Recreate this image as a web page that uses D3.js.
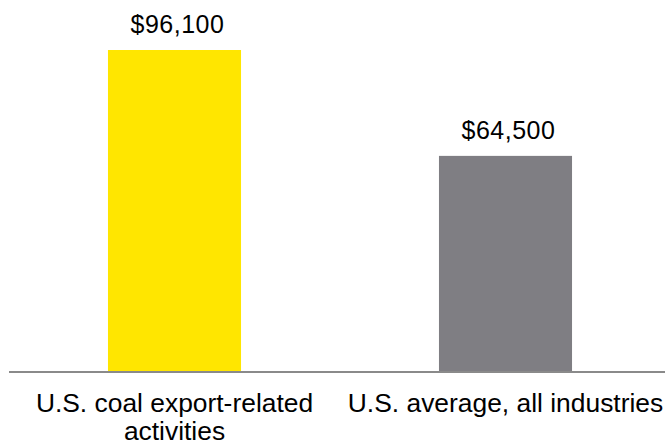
<!DOCTYPE html>
<html>
<head>
<meta charset="utf-8">
<script src="https://cdn.jsdelivr.net/npm/d3@7"></script>
<style>
  html, body { margin: 0; padding: 0; background: #fff; }
  svg { display: block; }
  text { font-family: "Liberation Sans", Arial, sans-serif; fill: #000; }
</style>
</head>
<body>
<svg id="chart" width="665" height="444"></svg>
<script>
const categories = ["U.S. coal export-related activities", "U.S. average, all industries"];
const categoryLines = [["U.S. coal export-related", "activities"], ["U.S. average, all industries"]];
const values = [96100, 64500];
const valueLabels = ["$96,100", "$64,500"];
const colors = ["#FFE600", "#7F7E83"];

const svg = d3.select("#chart");
const baseY = 372;

const x = d3.scaleBand()
  .domain(categories)
  .range([9, 671])
  .paddingInner(0.598)
  .paddingOuter(0.299);

const y = d3.scaleLinear()
  .domain([0, d3.max(values)])
  .range([baseY, 50]);

svg.selectAll("rect.bar")
  .data(categories)
  .join("rect")
  .attr("class", "bar")
  .attr("x", d => x(d))
  .attr("width", x.bandwidth())
  .attr("y", (d, i) => y(values[i]))
  .attr("height", (d, i) => baseY - y(values[i]))
  .attr("fill", (d, i) => colors[i]);

svg.append("line")
  .attr("x1", 9).attr("x2", 665)
  .attr("y1", baseY).attr("y2", baseY)
  .attr("stroke", "#8a8a8a")
  .attr("stroke-width", 2);

svg.selectAll("text.val")
  .data(categories)
  .join("text")
  .attr("class", "val")
  .attr("x", d => x(d) + x.bandwidth() / 2 + 3)
  .attr("y", (d, i) => y(values[i]) - 17)
  .attr("text-anchor", "middle")
  .attr("font-size", "25px")
  .attr("letter-spacing", "0.5px")
  .text((d, i) => valueLabels[i]);

const lab = svg.selectAll("text.cat")
  .data(categories)
  .join("text")
  .attr("class", "cat")
  .attr("text-anchor", "middle")
  .attr("font-size", "26.4px");

lab.each(function(d, i) {
  const t = d3.select(this);
  categoryLines[i].forEach((line, j) => {
    t.append("tspan")
      .attr("x", x(d) + x.bandwidth() / 2)
      .attr("y", 412 + j * 28)
      .text(line);
  });
});
</script>
</body>
</html>
